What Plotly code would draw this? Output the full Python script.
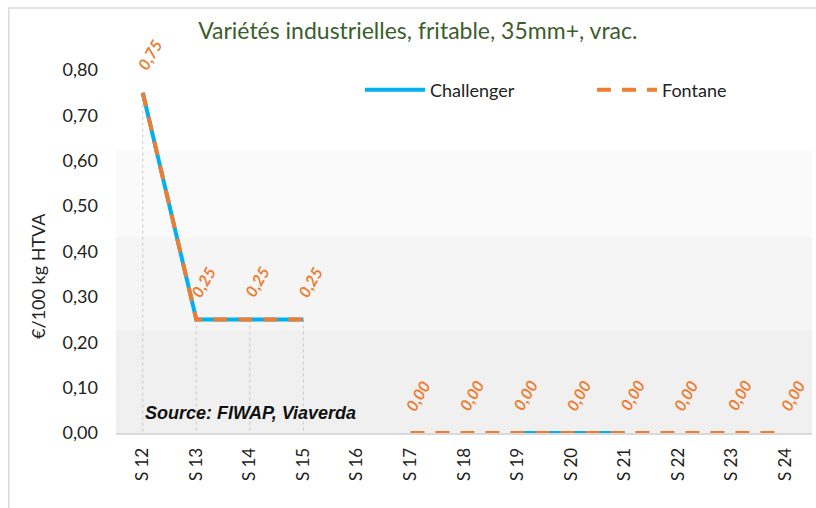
import plotly.graph_objects as go

weeks = ["S 12", "S 13", "S 14", "S 15", "S 16", "S 17", "S 18",
         "S 19", "S 20", "S 21", "S 22", "S 23", "S 24"]
challenger = [0.75, 0.25, 0.25, 0.25, None, None, None, 0.0, 0.0, 0.0, None, None, None]
fontane = [0.75, 0.25, 0.25, 0.25, None, 0.0, 0.0, 0.0, 0.0, 0.0, 0.0, 0.0, 0.0]

title_text = "Variétés industrielles, fritable, 35mm+, vrac."
y_title = "€/100 kg HTVA"
source_text = "Source: FIWAP, Viaverda"

BLUE = "#00B0F0"
ORANGE = "#ED7D31"
FONT = "Lato"

fig = go.Figure()

# drop lines (dotted) from each point down to the axis
drop_x, drop_y = [], []
for w, a, b in zip(weeks, challenger, fontane):
    vals = [v for v in (a, b) if v is not None]
    if vals and max(vals) > 0:
        drop_x += [w, w, None]
        drop_y += [max(vals), 0, None]
fig.add_trace(go.Scatter(x=drop_x, y=drop_y, mode="lines", showlegend=False,
                         hoverinfo="skip",
                         line=dict(color="#c8c8c8", width=1, dash="dot")))

fig.add_trace(go.Scatter(x=weeks, y=challenger, mode="lines", name="Challenger",
                         legend="legend",
                         line=dict(color=BLUE, width=4)))
fig.add_trace(go.Scatter(x=weeks, y=fontane, mode="lines", name="Fontane",
                         legend="legend2",
                         line=dict(color=ORANGE, width=4, dash="14px,11px")))

# data labels on Fontane
for w, v in zip(weeks, fontane):
    if v is None:
        continue
    fig.add_annotation(x=w, y=v, text=f"{v:.2f}".replace(".", ","),
                       showarrow=False, textangle=-60, yshift=38, xshift=7,
                       font=dict(family=FONT, size=16, color=ORANGE, weight="bold",
                                 style="italic"))

fig.add_annotation(x=0, xref="x", y=0.045, yref="y", text=source_text,
                   showarrow=False, xanchor="left", yanchor="middle",
                   font=dict(family="Liberation Sans", size=18, color="#111111",
                             weight="bold", style="italic"))

# y axis title
fig.add_annotation(x=(38 - 116) / 696, xref="paper", y=0.408, yref="paper", text=y_title,
                   showarrow=False, textangle=-90, xanchor="center", yanchor="middle",
                   font=dict(family=FONT, size=18, color="#222222"))

# plot area shading bands
bands = [(0.6237, "#fafafa"), (0.432, "#f5f5f5"), (0.227, "#f0f0f0")]
edges = [b[0] for b in bands] + [0]
for (top, col), bot in zip(bands, edges[1:]):
    fig.add_shape(type="rect", xref="paper", yref="y", x0=0, x1=1, y0=bot, y1=top,
                  fillcolor=col, line_width=0, layer="below")

# chart frame
fig.add_shape(type="rect", xref="paper", yref="paper", x0=-0.154, x1=1.05,
              y0=-0.4, y1=1.104, line=dict(color="#d9d9d9", width=1.5),
              fillcolor="rgba(0,0,0,0)", layer="below")

legend_style = dict(orientation="h", y=0.891, xanchor="left", yanchor="middle",
                    bgcolor="rgba(0,0,0,0)", itemwidth=60,
                    font=dict(family=FONT, size=18, color="#222222"))

fig.update_layout(
    autosize=False,
    width=816, height=508,
    margin=dict(l=116, r=4, t=48, b=75),
    paper_bgcolor="white", plot_bgcolor="white",
    font=dict(family=FONT, size=18, color="#222222"),
    title=dict(text=title_text, x=0.512, xref="container", xanchor="center",
               y=0.94, yref="container", yanchor="middle",
               font=dict(family=FONT, size=23, color="#3B5E2B")),
    legend=dict(x=0.3506, **legend_style),
    legend2=dict(x=0.6839, **legend_style),
    xaxis=dict(type="category", range=[-0.5, 12.5], tickangle=-90, showgrid=False,
               showline=True, linecolor="#d9d9d9", linewidth=2,
               ticks="", tickfont=dict(size=17), ticklabelstandoff=6),
    yaxis=dict(range=[0, 0.8485], dtick=0.1, tickformat=".2f", showgrid=False,
               zeroline=False, ticks="", ticklabelstandoff=17),
    separators=", ",
)

fig.write_html("out.html", config={"displayModeBar": False},
               post_script="document.body.style.margin='0';document.body.style.overflow='hidden';")
